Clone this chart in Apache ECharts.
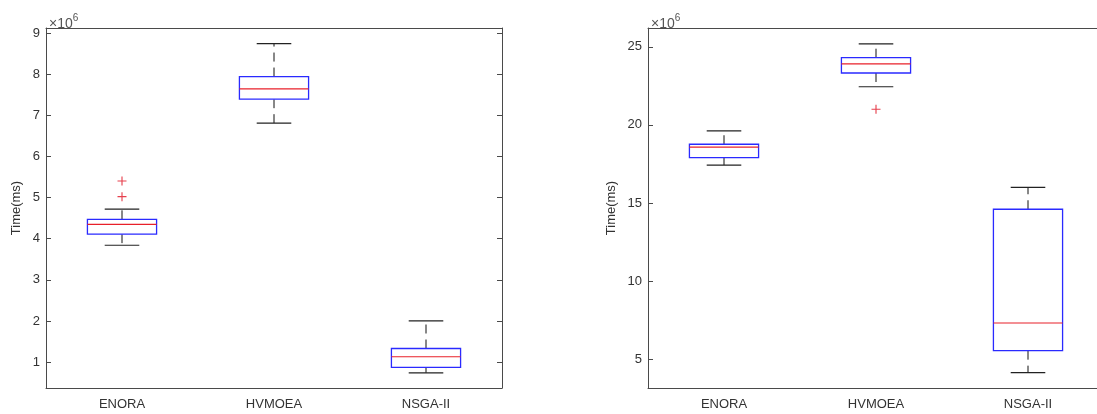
<!DOCTYPE html>
<html>
<head>
<meta charset="utf-8">
<title>Time(ms) box plots</title>
<script src="https://cdn.jsdelivr.net/npm/echarts@6/dist/echarts.min.js"></script>
<style>
  html, body { margin: 0; padding: 0; background: #fff; }
  #chart { width: 1097px; height: 414px; }
</style>
</head>
<body>
<div id="chart"></div>
<script>
// Algorithms compared in both panels
const categories = ['ENORA', 'HVMOEA', 'NSGA-II'];

// Box statistics in units of 10^6 ms: [lower whisker, Q1, median, Q3, upper whisker]
const leftEnora  = [3.84, 4.11, 4.345, 4.47, 4.72];
const leftHvmoea = [6.81, 7.39, 7.64, 7.94, 8.74];
const leftNsga   = [0.74, 0.87, 1.13, 1.33, 2.00];

const rightEnora  = [17.43, 17.90, 18.58, 18.76, 19.61];
const rightHvmoea = [22.44, 23.32, 23.91, 24.30, 25.19];
const rightNsga   = [4.14, 5.55, 7.32, 14.60, 16.00];

// Outliers: [category index, value]
const leftOutliers  = [[0, 5.02], [0, 5.40]];
const rightOutliers = [[1, 21.0]];

// Tick values for the y axes
const leftTicks  = [1, 2, 3, 4, 5, 6, 7, 8, 9];
const rightTicks = [5, 10, 15, 20, 25];

// Axis limits
const leftRange  = [0.37, 9.12];
const rightRange = [3.16, 26.2];

const AXIS_COLOR = '#4a4a4a';
const TEXT_COLOR = '#333';
const FONT = 'Liberation Sans, Arial, Helvetica, sans-serif';

function boxRows(stats) {
  return stats.map((s, i) => [i].concat(s));
}

// Draws a MATLAB-style box: dashed black whiskers, solid caps, blue box, red median
function renderBox(params, api) {
  const x = api.value(0);
  const lo = api.coord([x, api.value(1)]);
  const q1 = api.coord([x, api.value(2)]);
  const med = api.coord([x, api.value(3)]);
  const q3 = api.coord([x, api.value(4)]);
  const hi = api.coord([x, api.value(5)]);
  const band = api.size([1, 0])[0];
  const boxW = band * 0.455;
  const capW = boxW / 2;
  const cx = lo[0];
  const whisker = { stroke: '#111', lineWidth: 1, lineDash: [9, 6] };
  const cap = { stroke: '#222', lineWidth: 1.2 };
  return {
    type: 'group',
    children: [
      { type: 'line', shape: { x1: cx, y1: q3[1], x2: cx, y2: hi[1] }, style: whisker },
      { type: 'line', shape: { x1: cx, y1: q1[1], x2: cx, y2: lo[1] }, style: whisker },
      { type: 'line', shape: { x1: cx - capW / 2, y1: hi[1], x2: cx + capW / 2, y2: hi[1] }, style: cap },
      { type: 'line', shape: { x1: cx - capW / 2, y1: lo[1], x2: cx + capW / 2, y2: lo[1] }, style: cap },
      { type: 'rect', shape: { x: cx - boxW / 2, y: q3[1], width: boxW, height: q1[1] - q3[1] },
        style: { fill: '#fff', stroke: '#2a2aff', lineWidth: 1.3 } },
      { type: 'line', shape: { x1: cx - boxW / 2, y1: med[1], x2: cx + boxW / 2, y2: med[1] },
        style: { stroke: '#e8202a', lineWidth: 1.2 } }
    ]
  };
}

const plusSymbol = 'path://M3.5,0h1v8h-1z M0,3.5h8v1h-8z';

function xAxes(gridIndex) {
  return [
    {
      type: 'category', gridIndex, data: categories, position: 'bottom',
      axisLine: { lineStyle: { color: AXIS_COLOR, width: 1 } },
      axisTick: { inside: true, alignWithLabel: true, length: 4, lineStyle: { color: AXIS_COLOR } },
      axisLabel: { color: TEXT_COLOR, fontFamily: FONT, fontSize: 13, margin: 10 },
      splitLine: { show: false }
    },
    {
      type: 'category', gridIndex, data: categories, position: 'top',
      axisLine: { lineStyle: { color: AXIS_COLOR, width: 1 } },
      axisTick: { inside: true, alignWithLabel: true, length: 4, lineStyle: { color: AXIS_COLOR } },
      axisLabel: { show: false },
      splitLine: { show: false }
    }
  ];
}

function yAxes(gridIndex, range, ticks, nameGap) {
  return [
    {
      type: 'value', gridIndex, position: 'left', min: range[0], max: range[1],
      name: 'Time(ms)', nameLocation: 'middle', nameGap,
      nameTextStyle: { color: TEXT_COLOR, fontFamily: FONT, fontSize: 13 },
      axisLine: { show: true, lineStyle: { color: AXIS_COLOR, width: 1 } },
      axisTick: { show: true, inside: true, length: 5, customValues: ticks, lineStyle: { color: AXIS_COLOR } },
      axisLabel: { color: TEXT_COLOR, fontFamily: FONT, fontSize: 13, margin: 6, customValues: ticks },
      splitLine: { show: false }
    },
    {
      type: 'value', gridIndex, position: 'right', min: range[0], max: range[1],
      axisLine: { show: true, lineStyle: { color: AXIS_COLOR, width: 1 } },
      axisTick: { show: true, inside: true, length: 5, customValues: ticks, lineStyle: { color: AXIS_COLOR } },
      axisLabel: { show: false, customValues: ticks },
      splitLine: { show: false }
    }
  ];
}

const chart = echarts.init(document.getElementById('chart'), null, { renderer: 'canvas' });

// "×10^6" scale note above each y axis
const scaleTitle = (left) => ({
  text: '{x|×10}{e|6}',
  left, top: 8,
  textStyle: {
    fontWeight: 'normal',
    rich: {
      x: { fontFamily: FONT, fontSize: 14, fontWeight: 'normal', color: '#555', verticalAlign: 'bottom', lineHeight: 18 },
      e: { fontFamily: FONT, fontSize: 10, fontWeight: 'normal', color: '#555', verticalAlign: 'top', lineHeight: 18, padding: [0, 0, 8, 0] }
    }
  }
});

chart.setOption({
  animation: false,
  backgroundColor: '#fff',
  title: [scaleTitle(44), scaleTitle(646)],
  grid: [
    { left: 46, top: 28, width: 456, height: 360, outerBoundsMode: 'none' },
    { left: 648, top: 28, width: 456, height: 360, outerBoundsMode: 'none' }
  ],
  xAxis: xAxes(0).concat(xAxes(1)),
  yAxis: yAxes(0, leftRange, leftTicks, 23).concat(yAxes(1, rightRange, rightTicks, 30)),
  series: [
    {
      type: 'custom', xAxisIndex: 0, yAxisIndex: 0, renderItem: renderBox,
      encode: { x: 0, y: [1, 2, 3, 4, 5] },
      data: boxRows([leftEnora, leftHvmoea, leftNsga])
    },
    {
      type: 'scatter', xAxisIndex: 0, yAxisIndex: 0, symbol: plusSymbol, symbolSize: 9,
      itemStyle: { color: '#e01020' }, data: leftOutliers
    },
    {
      type: 'custom', xAxisIndex: 2, yAxisIndex: 2, renderItem: renderBox,
      encode: { x: 0, y: [1, 2, 3, 4, 5] },
      data: boxRows([rightEnora, rightHvmoea, rightNsga])
    },
    {
      type: 'scatter', xAxisIndex: 2, yAxisIndex: 2, symbol: plusSymbol, symbolSize: 9,
      itemStyle: { color: '#e01020' }, data: rightOutliers
    }
  ]
});
</script>
</body>
</html>
